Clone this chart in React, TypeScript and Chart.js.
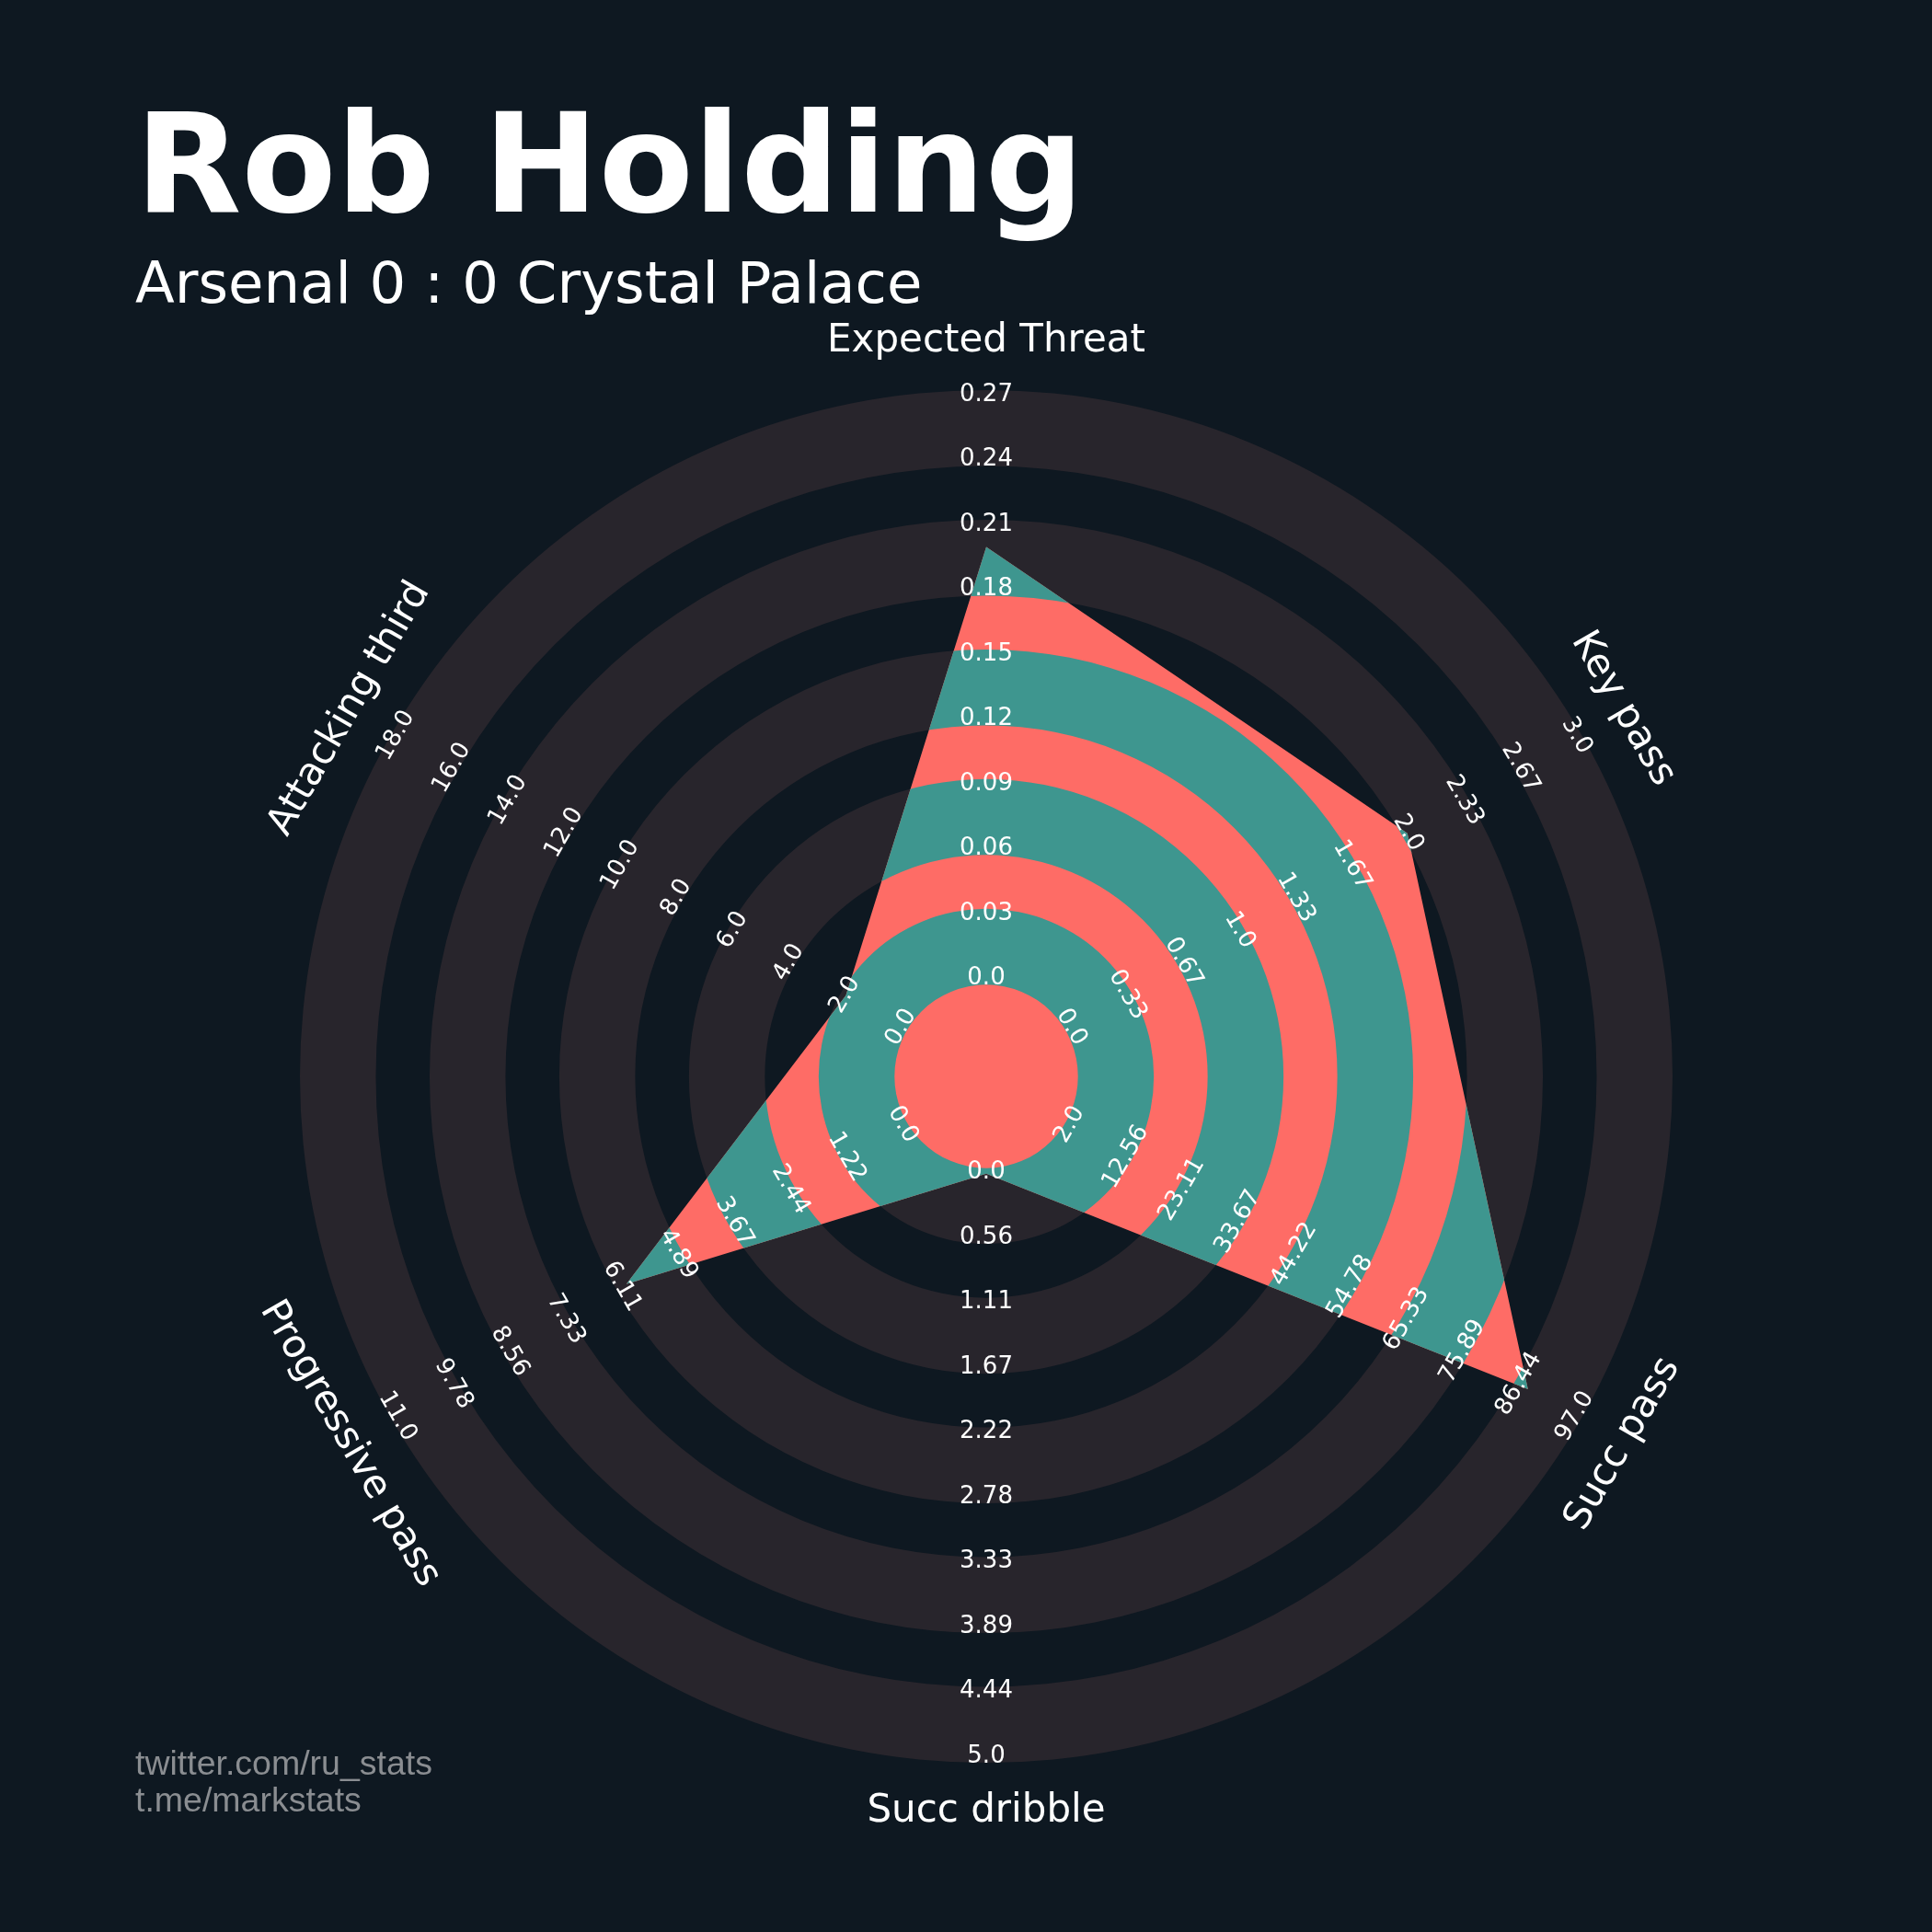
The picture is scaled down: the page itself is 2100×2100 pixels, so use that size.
import React, { useEffect, useRef } from "react";
import { Chart, registerables } from "chart.js";

Chart.register(...registerables);

// ---------- data ----------
const PARAMS = ["Expected Threat", "Key pass", "Succ pass", "Succ dribble", "Progressive pass", "Attacking third"];
const MIN_RANGE = [0, 0, 2, 0, 0, 0];
const MAX_RANGE = [0.27, 3, 97, 5, 11, 18];
const VALUES = [0.2, 2, 88, 0, 6, 2];

const TICKS_XT = ["0.0", "0.03", "0.06", "0.09", "0.12", "0.15", "0.18", "0.21", "0.24", "0.27"];
const TICKS_KP = ["0.0", "0.33", "0.67", "1.0", "1.33", "1.67", "2.0", "2.33", "2.67", "3.0"];
const TICKS_SP = ["2.0", "12.56", "23.11", "33.67", "44.22", "54.78", "65.33", "75.89", "86.44", "97.0"];
const TICKS_SD = ["0.0", "0.56", "1.11", "1.67", "2.22", "2.78", "3.33", "3.89", "4.44", "5.0"];
const TICKS_PP = ["0.0", "1.22", "2.44", "3.67", "4.89", "6.11", "7.33", "8.56", "9.78", "11.0"];
const TICKS_AT = ["0.0", "2.0", "4.0", "6.0", "8.0", "10.0", "12.0", "14.0", "16.0", "18.0"];
const TICK_LABELS = [TICKS_XT, TICKS_KP, TICKS_SP, TICKS_SD, TICKS_PP, TICKS_AT];

const TITLE = "Rob Holding";
const SUBTITLE = "Arsenal 0 : 0 Crystal Palace";
const FOOTER = ["twitter.com/ru_stats", "t.me/markstats"];

// ---------- styling ----------
const BG = "#0e1821";
const DARK_RING = "#28252c";
const RED = "#fe6c66";
const TEAL = "#3e968f";
const WHITE = "#ffffff";
const GREY = "#8a8d91";
const FONT = '"DejaVu Sans", sans-serif';

const CENTER = 1.5; // centre circle radius in ring units
const NUM_RINGS = 9;
const RING_PAD = 6; // px stroke widening of the dark rings
const LABEL_GAP = 59;

const scaled = VALUES.map((v, i) => CENTER + (NUM_RINGS * (v - MIN_RANGE[i])) / (MAX_RANGE[i] - MIN_RANGE[i]));

function drawRings(ctx: CanvasRenderingContext2D, s: any) {
  for (let k = 0; k < NUM_RINGS; k += 2) {
    const r0 = s.getDistanceFromCenterForValue(CENTER + k) - RING_PAD;
    const r1 = s.getDistanceFromCenterForValue(CENTER + k + 1) + RING_PAD;
    ctx.beginPath();
    ctx.arc(s.xCenter, s.yCenter, r1, 0, Math.PI * 2);
    ctx.arc(s.xCenter, s.yCenter, Math.max(r0, 0), 0, Math.PI * 2, true);
    ctx.fill();
  }
}

function rotFor(angle: number) {
  const a = Math.atan2(Math.sin(angle), Math.cos(angle));
  return a <= 0 ? a + Math.PI / 2 : a - Math.PI / 2;
}

const radarDecor = {
  id: "radarDecor",
  beforeDatasetsDraw(chart: any) {
    const s = chart.scales.r;
    const ctx = chart.ctx as CanvasRenderingContext2D;
    ctx.save();
    ctx.fillStyle = DARK_RING;
    drawRings(ctx, s);
    ctx.restore();
  },
  afterDatasetsDraw(chart: any) {
    const s = chart.scales.r;
    const ctx = chart.ctx as CanvasRenderingContext2D;
    const meta = chart.getDatasetMeta(0);
    // teal rings clipped to the data polygon
    ctx.save();
    ctx.beginPath();
    meta.data.forEach((p: any, i: number) => (i ? ctx.lineTo(p.x, p.y) : ctx.moveTo(p.x, p.y)));
    ctx.closePath();
    ctx.clip();
    ctx.fillStyle = TEAL;
    drawRings(ctx, s);
    ctx.restore();

    // tick labels along each axis
    ctx.save();
    ctx.fillStyle = WHITE;
    ctx.textAlign = "center";
    ctx.textBaseline = "middle";
    ctx.font = `26px ${FONT}`;
    for (let i = 0; i < PARAMS.length; i++) {
      for (let k = 0; k <= NUM_RINGS; k++) {
        const p = s.getPointPositionForValue(i, CENTER + k);
        ctx.save();
        ctx.translate(p.x, p.y);
        ctx.rotate(rotFor(p.angle));
        ctx.fillText(TICK_LABELS[i][k], 0, -1);
        ctx.restore();
      }
    }
    // axis names
    ctx.font = `42px ${FONT}`;
    for (let i = 0; i < PARAMS.length; i++) {
      const p = s.getPointPosition(i, s.drawingArea + LABEL_GAP);
      ctx.save();
      ctx.translate(p.x, p.y);
      ctx.rotate(rotFor(p.angle));
      ctx.fillText(PARAMS[i], 0, 0);
      ctx.restore();
    }
    ctx.restore();
  },
};

export default function App() {
  const ref = useRef<HTMLCanvasElement>(null);
  useEffect(() => {
    const chart = new Chart(ref.current as HTMLCanvasElement, {
      type: "radar",
      data: {
        labels: PARAMS,
        datasets: [
          {
            data: scaled,
            backgroundColor: RED,
            borderColor: "rgba(0,0,0,0)",
            borderWidth: 0,
            pointRadius: 0,
            pointHoverRadius: 0,
            fill: true,
            tension: 0,
          } as any,
        ],
      },
      options: {
        responsive: false,
        animation: false,
        layout: { padding: { left: 332, right: 288, top: 430, bottom: 190 } },
        plugins: { legend: { display: false }, tooltip: { enabled: false }, title: { display: false } },
        scales: {
          r: {
            min: 0,
            max: CENTER + NUM_RINGS,
            display: true,
            grid: { display: false },
            angleLines: { display: false },
            ticks: { display: false },
            pointLabels: { display: false },
          },
        },
      } as any,
      plugins: [radarDecor as any],
    });
    return () => chart.destroy();
  }, []);

  return (
    <div style={{ position: "absolute", left: 0, top: 0, width: 2100, height: 2100, background: BG, overflow: "hidden" }}>
      <canvas ref={ref} width={2100} height={2100} style={{ position: "absolute", left: 0, top: 0, width: 2100, height: 2100 }} />
      <div style={{ position: "absolute", left: 147, top: 103, fontFamily: FONT, fontWeight: "bold", fontSize: 150, lineHeight: 1, color: WHITE, whiteSpace: "nowrap" }}>{TITLE}</div>
      <div style={{ position: "absolute", left: 147, top: 277, fontFamily: FONT, fontSize: 62.5, lineHeight: 1, color: WHITE, whiteSpace: "nowrap" }}>{SUBTITLE}</div>
      <div style={{ position: "absolute", left: 147, top: 1896, fontFamily: '"Liberation Sans", Arial, sans-serif', fontSize: 37.5, lineHeight: "40px", color: GREY, whiteSpace: "nowrap" }}>
        {FOOTER.map((t) => (
          <div key={t}>{t}</div>
        ))}
      </div>
    </div>
  );
}
